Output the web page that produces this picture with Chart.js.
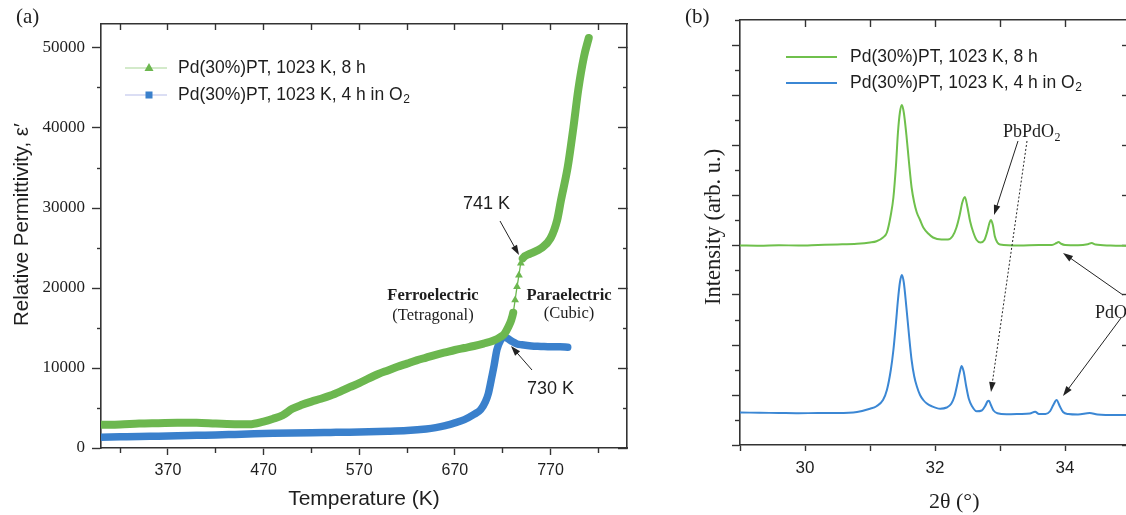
<!DOCTYPE html>
<html><head><meta charset="utf-8">
<script src="https://cdn.jsdelivr.net/npm/chart.js@4.4.0/dist/chart.umd.min.js"></script>
<style>
html,body{margin:0;padding:0;background:#fff;overflow:hidden;width:1126px;height:515px;position:relative;}
#wa{position:absolute;left:0;top:0;width:640px;height:515px;}
#wb{position:absolute;left:640px;top:0;width:500px;height:515px;}
canvas{display:block;}
</style></head><body>
<div id="wa"><canvas id="ca" width="640" height="515"></canvas></div>
<div id="wb"><canvas id="cb" width="500" height="515"></canvas></div>
<script>
// ---------- Panel (a) data ----------
const tempGreen = [300,320,340,360,380,400,420,440,455,470,480,490,500,510,520,530,540,550,560,570,580,590,600,610,620,630,640,650,660,670,680,690,700,710,718,722,726,729,731,733,735,737,739,741,749,760,770,777,781,788,794,799,805,810];
const epsGreen = [2900,2950,3050,3100,3150,3170,3050,2970,2960,3300,3650,4100,4900,5400,5800,6150,6550,7050,7600,8100,8700,9250,9700,10150,10550,10950,11300,11650,11950,12250,12500,12750,13050,13400,13900,14300,15150,16000,16900,18500,20150,21600,23100,23700,24300,24950,26200,28500,31000,35100,40100,44750,48900,51250];
const tempBlue = [300,320,340,360,380,400,420,440,460,480,500,520,540,560,580,600,620,640,650,660,670,680,690,697,702,705,708,711,714,718,721,725,730,735,740,750,760,770,780,788];
const epsBlue = [1350,1400,1450,1480,1520,1580,1630,1700,1770,1830,1880,1920,1950,1980,2020,2080,2180,2380,2550,2800,3150,3550,4200,4800,5800,6800,8500,10300,12300,13500,13900,13700,13300,13000,12900,12750,12700,12650,12650,12600];
const tempTicks = [370,470,570,670,770];
const tempMinorTicks = [320,420,520,620,720,820];
const tempTopTicks = [320,370,420,470,520,570,620,670,720,770,820];
const permTicks = [0,10000,20000,30000,40000,50000];
const permMinorTicks = [5000,15000,25000,35000,45000];
const seriesNames = ['Pd(30%)PT, 1023 K, 8 h', 'Pd(30%)PT, 1023 K, 4 h in O'];

// ---------- Panel (b) data ----------
const thetaGreen = [29.0,29.3,29.6,29.9,30.2,30.5,30.8,31.0,31.1,31.2,31.26,31.32,31.36,31.40,31.43,31.46,31.49,31.52,31.56,31.60,31.64,31.68,31.72,31.77,31.82,31.9,31.97,32.1,32.2,32.27,32.33,32.38,32.42,32.46,32.50,32.54,32.59,32.64,32.7,32.76,32.8,32.84,32.86,32.89,32.92,32.96,33.0,33.3,33.6,33.8,33.87,33.9,33.94,34.0,34.2,34.35,34.41,34.47,34.7,35.0];
const intGreen = [7.98,7.97,7.99,7.98,8.0,8.02,8.05,8.1,8.15,8.3,8.5,9.2,9.9,11.2,12.5,13.3,13.6,13.3,12.4,11.3,10.3,9.7,9.3,9.0,8.7,8.45,8.3,8.22,8.22,8.35,8.7,9.2,9.7,9.92,9.5,8.95,8.5,8.2,8.1,8.2,8.5,8.9,9.0,8.8,8.35,8.1,8.02,7.98,8.0,8.0,8.08,8.12,8.05,8.0,7.99,8.03,8.08,8.02,7.98,7.96];
const thetaBlue = [29.0,29.3,29.6,29.9,30.2,30.5,30.8,31.0,31.1,31.2,31.26,31.32,31.36,31.40,31.43,31.46,31.49,31.52,31.56,31.60,31.64,31.68,31.72,31.77,31.82,31.87,31.95,32.08,32.18,32.25,32.3,32.34,32.38,32.41,32.44,32.48,32.52,32.57,32.64,32.72,32.77,32.81,32.83,32.86,32.9,32.96,33.1,33.3,33.46,33.54,33.6,33.7,33.77,33.82,33.87,33.92,33.97,34.05,34.2,34.38,34.5,34.8,35.0];
const intBlue = [1.3,1.29,1.28,1.27,1.28,1.28,1.32,1.45,1.55,1.8,2.2,3.0,3.8,4.9,5.8,6.5,6.8,6.5,5.5,4.4,3.4,2.75,2.35,2.0,1.8,1.67,1.55,1.45,1.5,1.65,1.95,2.4,2.9,3.16,2.95,2.35,1.85,1.55,1.35,1.38,1.55,1.75,1.77,1.6,1.38,1.27,1.23,1.24,1.26,1.33,1.24,1.24,1.35,1.6,1.8,1.55,1.32,1.24,1.22,1.28,1.22,1.2,1.2];
const thetaTicks = [29,30,31,32,33,34,35];
const thetaLabels = [30,32,34];
const thetaTopTicks = [30,31,32,33,34];
const intMajorTicks = [0,2,4,6,8,10,12,14,16];
const intMinorTicks = [1,3,5,7,9,11,13,15,17];

// ---------- styles ----------
const AX = '#333';
const TXT = '#1e1e1e';
const SANS = '"Liberation Sans", Arial, sans-serif';
const SERIF = '"Liberation Serif", "Times New Roman", serif';
const GREEN_A = '#6cb74f', BLUE_A = '#3a80cc';
const GREEN_B = '#6fc04c', BLUE_B = '#3b87d4';
Chart.defaults.color = TXT;
Chart.defaults.font.family = SANS;

function setTicks(arr){ return s => { s.ticks = arr.map(v => ({value: v})); }; }
function fixW(w){ return s => { s.width = w; }; }
function fixH(h){ return s => { s.height = h; }; }
function tickAxis(axis, position, min, max, arr, len, extra){
  return Object.assign({
    type:'linear', axis, position, min, max, weight:0,
    afterBuildTicks: setTicks(arr),
    afterFit: axis === 'x' ? fixH(0) : fixW(0),
    grid:{drawOnChartArea:false, drawTicks:true, tickLength:len, tickColor:AX, tickWidth:1.4},
    border:{display:false},
    ticks:{display:false}
  }, extra || {});
}
const BORDER = {display:true, color:AX, width:1.6};

function arrow(c, x1, y1, x2, y2, dash){
  const a = Math.atan2(y2 - y1, x2 - x1), L = 10, W = 3.3;
  c.save();
  c.strokeStyle = '#222'; c.fillStyle = '#222'; c.lineWidth = 1;
  if (dash) c.setLineDash(dash);
  c.beginPath(); c.moveTo(x1, y1);
  c.lineTo(x2 - L * 0.8 * Math.cos(a), y2 - L * 0.8 * Math.sin(a)); c.stroke();
  c.setLineDash([]);
  c.beginPath(); c.moveTo(x2, y2);
  c.lineTo(x2 - L * Math.cos(a) + W * Math.sin(a), y2 - L * Math.sin(a) - W * Math.cos(a));
  c.lineTo(x2 - L * Math.cos(a) - W * Math.sin(a), y2 - L * Math.sin(a) + W * Math.cos(a));
  c.closePath(); c.fill();
  c.restore();
}
function textSub(c, main, sub, x, y, font, subFont, dy){
  c.font = font; c.fillText(main, x, y);
  const w = c.measureText(main).width;
  c.font = subFont; c.fillText(sub, x + w + 0.5, y + dy);
}

// ---------- Panel (a) ----------
const annotA = {
  id:'annotA',
  afterDraw(chart){
    const c = chart.ctx;
    c.save();
    c.fillStyle = TXT; c.textAlign = 'left'; c.textBaseline = 'middle';
    c.font = '21px ' + SERIF; c.fillText('(a)', 16, 17);
    // legend
    c.lineWidth = 1.2;
    c.strokeStyle = '#a8d596'; c.beginPath(); c.moveTo(125, 68); c.lineTo(167, 68); c.stroke();
    c.fillStyle = GREEN_A; c.beginPath(); c.moveTo(149, 63); c.lineTo(153.5, 71); c.lineTo(144.5, 71); c.closePath(); c.fill();
    c.strokeStyle = '#b8bde9'; c.beginPath(); c.moveTo(125, 95); c.lineTo(167, 95); c.stroke();
    c.fillStyle = BLUE_A; c.fillRect(145.5, 91.5, 7, 7);
    c.fillStyle = TXT; c.textBaseline = 'middle';
    c.font = '17.5px ' + SANS; c.fillText(seriesNames[0], 178, 68);
    textSub(c, seriesNames[1], '2', 178, 95, '17.5px ' + SANS, '12px ' + SANS, 5);
    // annotations
    c.font = '18px ' + SANS; c.textAlign = 'left';
    c.fillText('741 K', 463, 204);
    c.fillText('730 K', 527, 389);
    c.textAlign = 'center';
    c.font = 'bold 16.5px ' + SERIF;
    c.fillText('Ferroelectric', 433, 296);
    c.fillText('Paraelectric', 569, 296);
    c.font = '16.5px ' + SERIF;
    c.fillText('(Tetragonal)', 433, 316);
    c.fillText('(Cubic)', 569, 314);
    c.restore();
    arrow(c, 500, 221, 519, 255);
    arrow(c, 532, 370, 511, 346);
  }
};

new Chart(document.getElementById('ca'), {
  type:'line',
  data:{datasets:[
    {label: seriesNames[0], xAxisID:'x', yAxisID:'y',
     data: tempGreen.map((t, i) => ({x:t, y:epsGreen[i]})),
     borderColor: GREEN_A, backgroundColor: GREEN_A, borderWidth:8,
     borderCapStyle:'round', borderJoinStyle:'round', cubicInterpolationMode:'monotone',
     segment:{borderWidth: ctx => (ctx.p0.parsed.x >= 731 && ctx.p1.parsed.x <= 741) ? 1.3 : 8},
     pointStyle:'triangle', pointRadius: ctx => (ctx.raw && ctx.raw.x >= 733 && ctx.raw.x <= 739) ? 4.5 : 0,
     pointBackgroundColor: GREEN_A, pointBorderColor: GREEN_A, pointBorderWidth:0, fill:false},
    {label: seriesNames[1] + '₂', xAxisID:'x', yAxisID:'y',
     data: tempBlue.map((t, i) => ({x:t, y:epsBlue[i]})),
     borderColor: BLUE_A, backgroundColor: BLUE_A, borderWidth:7.5,
     borderCapStyle:'round', borderJoinStyle:'round', cubicInterpolationMode:'monotone',
     pointRadius:0, fill:false}
  ]},
  options:{
    responsive:false, animation:false, events:[],
    layout:{padding:{top:24, right:13, left:0, bottom:0}},
    plugins:{legend:{display:false}, tooltip:{enabled:false}, title:{display:false}},
    scales:{
      x:{type:'linear', axis:'x', position:'bottom', min:300, max:850, weight:1,
         afterBuildTicks: setTicks(tempTicks), afterFit: fixH(67),
         grid:{drawOnChartArea:false, tickLength:7, tickColor:AX, tickWidth:1.4},
         border: BORDER,
         ticks:{display:true, autoSkip:false, maxRotation:0, padding:6, color:TXT, font:{family:SANS, size:16}},
         title:{display:true, text:'Temperature (K)', color:TXT, font:{family:SANS, size:21}, padding:{top:0, bottom:3.5}}},
      xMinor: tickAxis('x', 'bottom', 300, 850, tempMinorTicks, 5),
      xTop: tickAxis('x', 'top', 300, 850, tempTopTicks, -6, {border: BORDER}),
      y:{type:'linear', axis:'y', position:'left', min:0, max:53000, weight:1,
         afterBuildTicks: setTicks(permTicks), afterFit: fixW(101),
         grid:{drawOnChartArea:false, tickLength:9, tickColor:AX, tickWidth:1.4},
         border: BORDER,
         ticks:{display:true, padding:7, color:TXT, font:{family:SERIF, size:17}, callback: v => String(v)},
         title:{display:true, text:'\u00a0\u00a0\u00a0\u00a0Relative Permittivity, ε\u2032', color:TXT, font:{family:SANS, size:20.5}, padding:{top:10.5, bottom:0}}},
      yMinor: tickAxis('y', 'left', 0, 53000, permMinorTicks, 4),
      yR: tickAxis('y', 'right', 0, 53000, permTicks, -9, {border: BORDER}),
      yRMinor: tickAxis('y', 'right', 0, 53000, permMinorTicks, -4)
    }
  },
  plugins:[annotA]
});

// ---------- Panel (b) ----------
const annotB = {
  id:'annotB',
  afterDraw(chart){
    const c = chart.ctx;
    c.save();
    c.fillStyle = TXT; c.textAlign = 'left'; c.textBaseline = 'middle';
    c.font = '21px ' + SERIF; c.fillText('(b)', 45, 17);
    c.lineWidth = 2;
    c.strokeStyle = GREEN_B; c.beginPath(); c.moveTo(146, 57); c.lineTo(197, 57); c.stroke();
    c.strokeStyle = BLUE_B; c.beginPath(); c.moveTo(146, 83); c.lineTo(197, 83); c.stroke();
    c.fillStyle = TXT;
    c.font = '17.5px ' + SANS; c.fillText(seriesNames[0], 210, 57);
    textSub(c, seriesNames[1], '2', 210, 83, '17.5px ' + SANS, '12px ' + SANS, 5);
    c.textBaseline = 'alphabetic';
    textSub(c, 'PbPdO', '2', 363, 137, '18px ' + SERIF, '12px ' + SERIF, 4);
    c.font = '18px ' + SERIF; c.fillText('PdO', 455, 318);
    c.restore();
    arrow(c, 378, 141, 354, 215);
    arrow(c, 387, 141, 351, 392, [2, 2]);
    arrow(c, 483, 295, 423, 253);
    arrow(c, 481, 318, 423, 396);
  }
};

new Chart(document.getElementById('cb'), {
  type:'line',
  data:{datasets:[
    {label: seriesNames[0], xAxisID:'x', yAxisID:'y',
     data: thetaGreen.map((t, i) => ({x:t, y:intGreen[i]})),
     borderColor: GREEN_B, borderWidth:2, cubicInterpolationMode:'monotone', pointRadius:0, fill:false},
    {label: seriesNames[1] + '₂', xAxisID:'x', yAxisID:'y',
     data: thetaBlue.map((t, i) => ({x:t, y:intBlue[i]})),
     borderColor: BLUE_B, borderWidth:2, cubicInterpolationMode:'monotone', pointRadius:0, fill:false}
  ]},
  options:{
    responsive:false, animation:false, events:[],
    layout:{padding:{top:20, right:10, left:0, bottom:0}},
    plugins:{legend:{display:false}, tooltip:{enabled:false}, title:{display:false}},
    scales:{
      x:{type:'linear', axis:'x', position:'bottom', min:29, max:35, weight:1,
         afterBuildTicks: setTicks(thetaTicks), afterFit: fixH(70),
         grid:{drawOnChartArea:false, tickLength:6, tickColor:AX, tickWidth:1.4},
         border: BORDER,
         ticks:{display:true, autoSkip:false, maxRotation:0, padding:7, color:TXT, font:{family:SANS, size:17},
                callback: v => thetaLabels.includes(v) ? String(v) : ''},
         title:{display:true, text:'\u00a0\u00a0\u00a0\u00a0\u00a0\u00a0\u00a02θ (°)', color:TXT, font:{family:SERIF, size:22}, padding:{top:0, bottom:0}}},
      xTop: tickAxis('x', 'top', 29, 35, thetaTopTicks, -7, {border: BORDER}),
      y:{type:'linear', axis:'y', position:'left', min:0, max:17, weight:1,
         afterBuildTicks: setTicks(intMajorTicks), afterFit: fixW(100),
         grid:{drawOnChartArea:false, tickLength:8, tickColor:AX, tickWidth:1.4},
         border: BORDER,
         ticks:{display:false},
         title:{display:true, text:'\u00a0\u00a0Intensity (arb. u.)', color:TXT, font:{family:SERIF, size:22.5}, padding:{top:60.5, bottom:0}}},
      yMinor: tickAxis('y', 'left', 0, 17, intMinorTicks, 5),
      yR: tickAxis('y', 'right', 0, 17, intMajorTicks, -8, {border: BORDER}),
      yRMinor: tickAxis('y', 'right', 0, 17, intMinorTicks, -3)
    }
  },
  plugins:[annotB]
});
</script>
</body></html>
